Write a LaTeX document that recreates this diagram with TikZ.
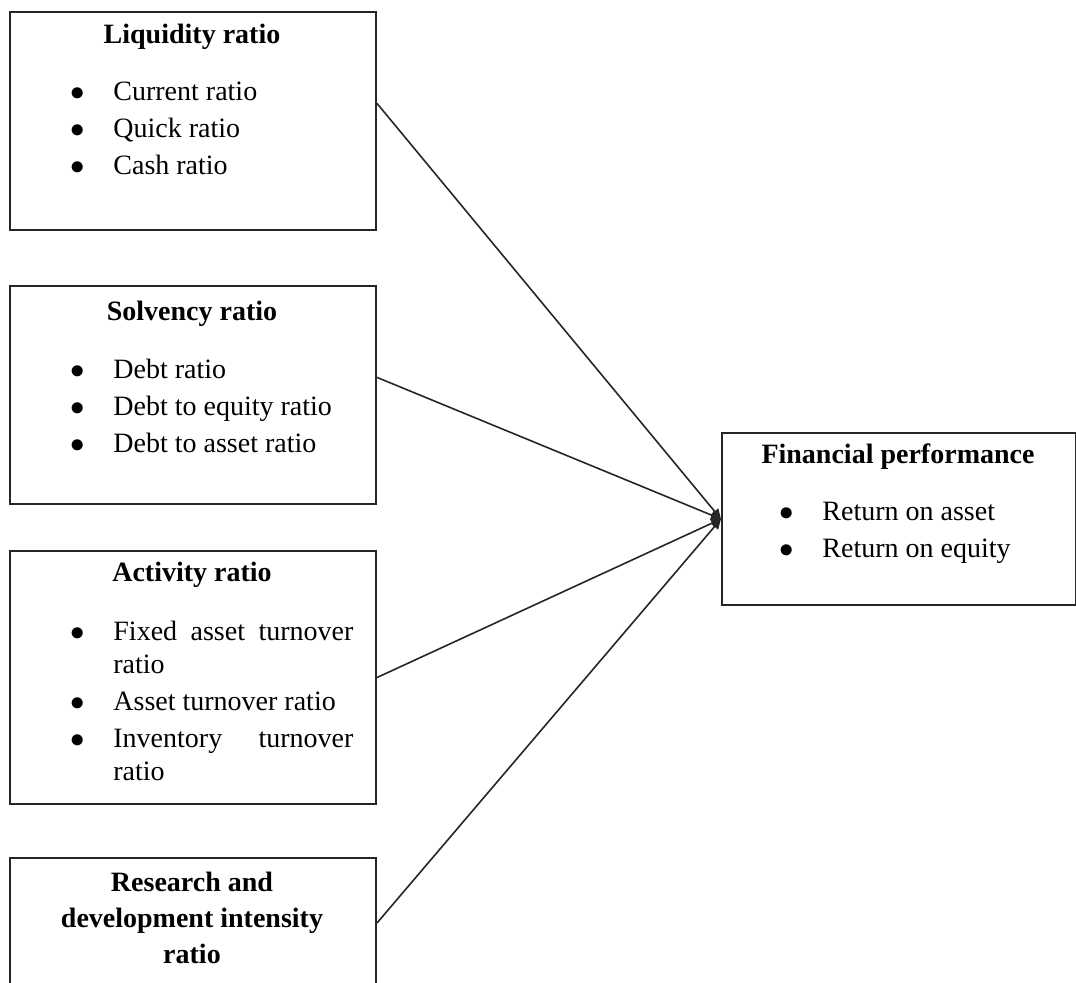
\documentclass[tikz,border=0pt]{standalone}
\usepackage{fontspec}
\setmainfont{Liberation Serif}
\usetikzlibrary{positioning,calc,arrows.meta}
\newcommand{\bitem}[1]{\noindent\llap{$\bullet$\hspace{14.5pt}}#1\par}
\newcommand{\listfont}{\fontsize{14}{16.5}\selectfont\sloppy\hyphenpenalty 10000 \parskip 2pt\relax}
\begin{document}
\begin{tikzpicture}[x=0.5pt,y=-0.5pt,
		ratiobox/.style={draw=black!85,line width=1pt,inner sep=0pt,anchor=north west,minimum width=183pt},
		boxtitle/.style={anchor=base,inner sep=0pt,font=\fontsize{14}{18}\selectfont\bfseries,align=center},
		itemlist/.style={anchor=base west,inner sep=0pt,text width=120pt,align=justify,font=\listfont},
		link/.style={draw=black!85,line width=0.8pt,-{Triangle[length=5pt,width=4.5pt]}}]
		\useasboundingbox (0,0) rectangle (1076,982);
		\clip (0,0) rectangle (1076,982);

		% ratio boxes on the left
		\node[ratiobox,minimum height=109pt]	(liq)	at (9,11)	{};
		\node[ratiobox,minimum height=109pt]	(solv)	at (9,285)	{};
		\node[ratiobox,minimum height=126.5pt]	(act)	at (9,550)	{};
		\node[ratiobox,minimum height=65pt]		(rnd)	at (9,857)	{};
		\node[ratiobox,minimum width=177pt,minimum height=86pt]	(fin)	at (721,432)	{};

		\node[boxtitle]	(liqtitle)	at (192,43)		{Liquidity ratio};
		\node[itemlist]	(liqlist)	at (113,100)	{\bitem{Current ratio}\bitem{Quick ratio}\bitem{Cash ratio}};

		\node[boxtitle]	(solvtitle)	at (192,320)	{Solvency ratio};
		\node[itemlist]	(solvlist)	at (113,378)	{\bitem{Debt ratio}\bitem{Debt to equity ratio}\bitem{Debt to asset ratio}};

		\node[boxtitle]	(acttitle)	at (192,581)	{Activity ratio};
		\node[itemlist]	(actlist)	at (113,640)	{\bitem{Fixed asset turnover ratio}\bitem{Asset turnover ratio}\bitem{Inventory turnover ratio}};

		\node[boxtitle,anchor=north]	(rndtitle)	at (192,872)	{Research and\\development intensity\\ratio};

		\node[boxtitle]	(fintitle)	at (898,463)	{Financial performance};
		\node[itemlist,text width=115pt]	(finlist)	at (822,520)	{\bitem{Return on asset}\bitem{Return on equity}};

		\draw[link] ($(liq.north east)!0.42!(liq.south east)$)		-- (fin.west);
		\draw[link] ($(solv.north east)!0.42!(solv.south east)$)	-- (fin.west);
		\draw[link] (act.east)	-- (fin.west);
		\draw[link] (rnd.east)	-- (fin.west);
	\end{tikzpicture}
\end{document}
